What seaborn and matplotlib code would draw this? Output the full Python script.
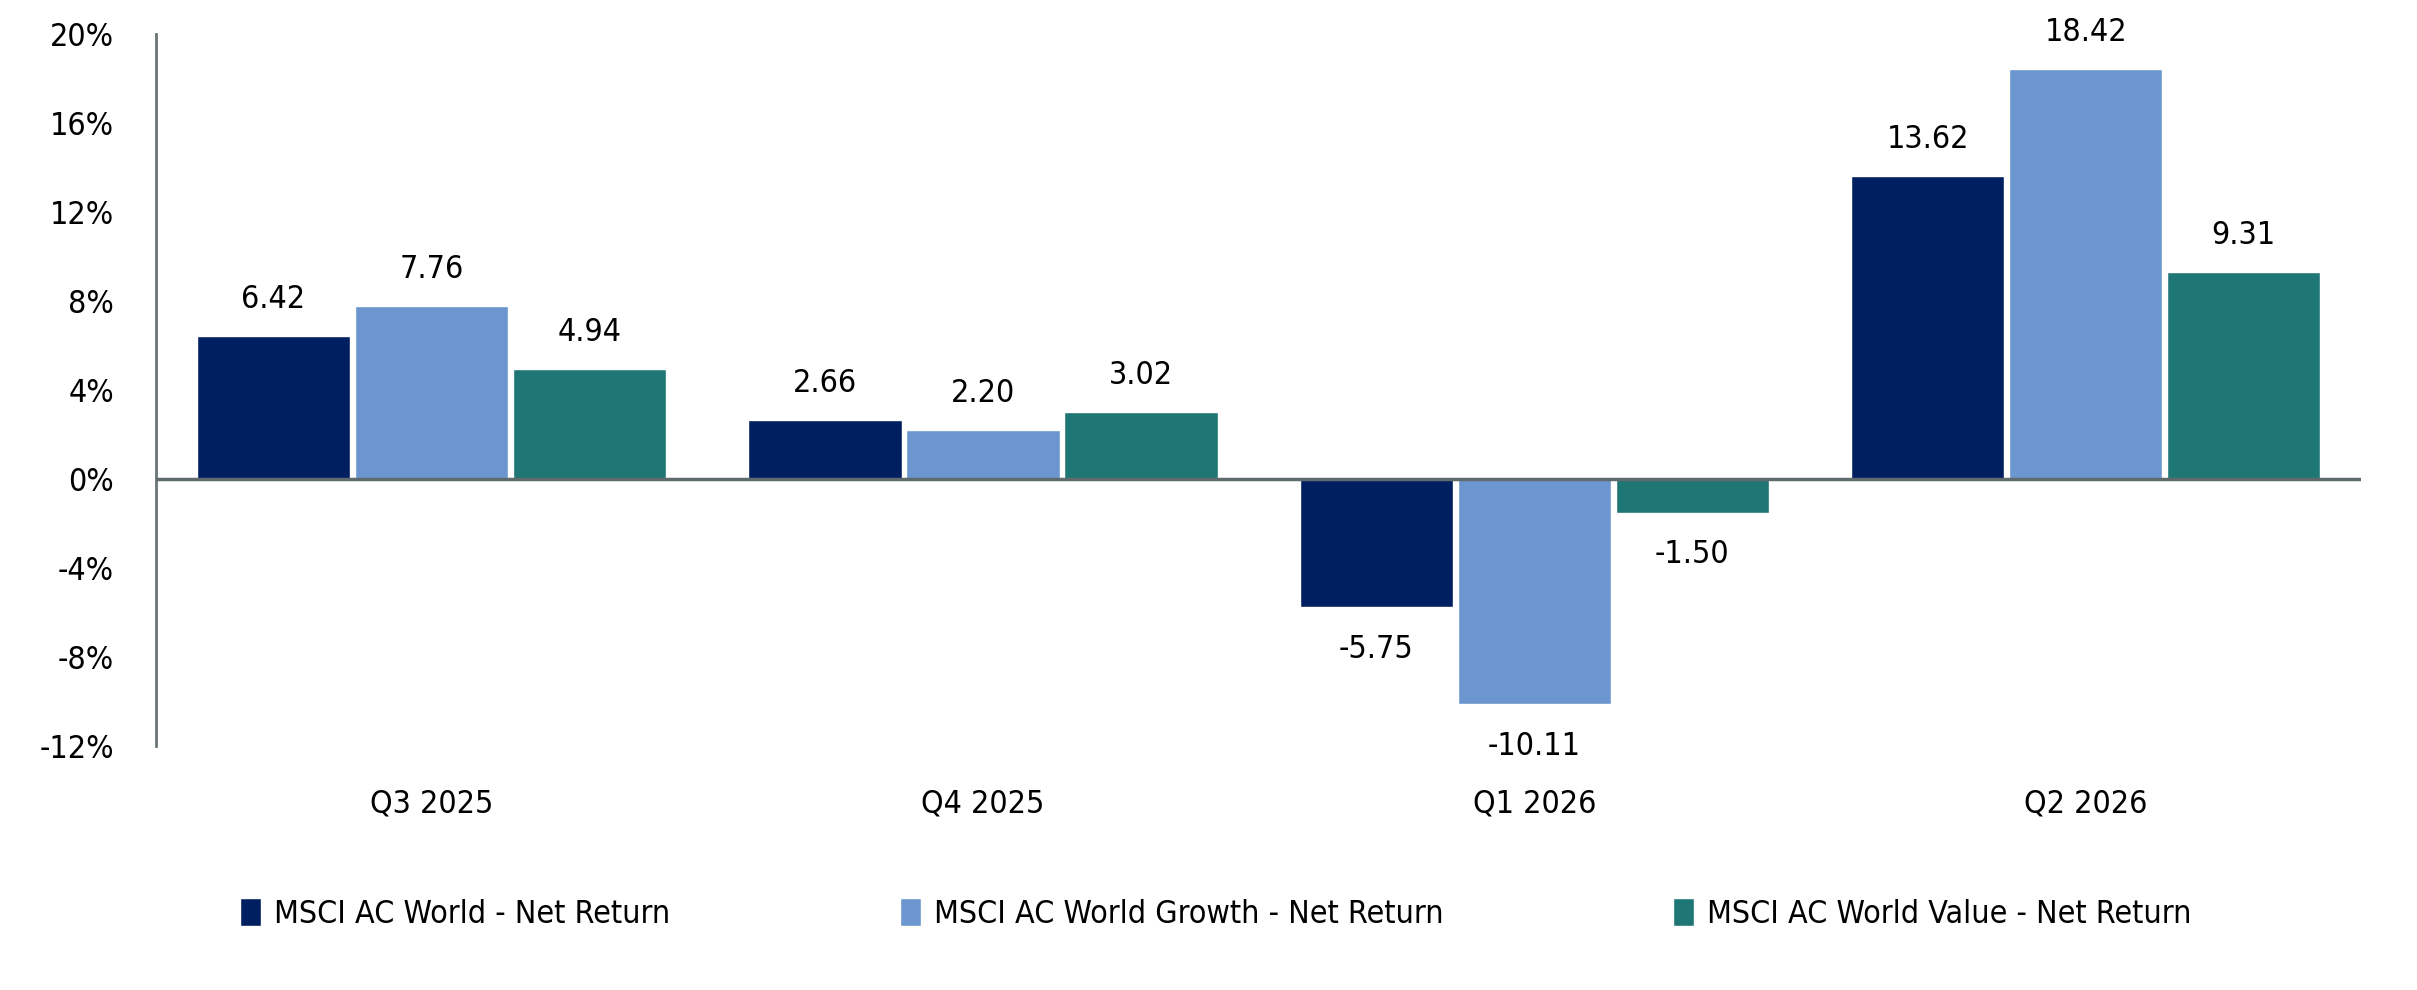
import matplotlib
matplotlib.use("Agg")
import matplotlib.pyplot as plt
from matplotlib.ticker import FuncFormatter
import pandas as pd
import seaborn as sns

# Chart data
quarters = ["Q3 2025", "Q4 2025", "Q1 2026", "Q2 2026"]
series_names = [
    "MSCI AC World - Net Return",
    "MSCI AC World Growth - Net Return",
    "MSCI AC World Value - Net Return",
]
world = [6.42, 2.66, -5.75, 13.62]
growth = [7.76, 2.20, -10.11, 18.42]
value = [4.94, 3.02, -1.50, 9.31]
y_ticks = [-12, -8, -4, 0, 4, 8, 12, 16, 20]

colors = ["#001F60", "#6B96D0", "#1F7775"]


def main():
    sns.set_style("white")
    plt.rcParams["font.family"] = ["DejaVu Sans"]
    plt.rcParams["font.stretch"] = "condensed"
    plt.rcParams["text.color"] = "black"
    plt.rcParams["xtick.color"] = "black"
    plt.rcParams["ytick.color"] = "black"

    df = pd.DataFrame(
        {
            "quarter": quarters * 3,
            "series": [s for s in series_names for _ in quarters],
            "ret": world + growth + value,
        }
    )

    fig = plt.figure(figsize=(24.17, 9.9), dpi=100)
    ax = fig.add_axes([0.0645, 0.246, 0.9125, 0.72])

    sns.barplot(
        data=df, x="quarter", y="ret", hue="series", hue_order=series_names,
        order=quarters, palette=colors, width=0.86, gap=0.03,
        saturation=1, errorbar=None, ax=ax,
    )

    # value labels
    for cont in ax.containers:
        for bar in cont:
            h = bar.get_height()
            x = bar.get_x() + bar.get_width() / 2
            off = 15 if h >= 0 else -19
            ax.annotate(
                f"{h:.2f}", (x, h), xytext=(0, off), textcoords="offset points",
                ha="center", va="bottom" if h >= 0 else "top", fontsize=23,
            )

    ax.set_xlim(-0.5, 3.5)
    ax.set_ylim(-12, 20)
    ax.set_yticks(y_ticks)
    ax.yaxis.set_major_formatter(FuncFormatter(lambda v, p: f"{v:.0f}%"))
    ax.set(xlabel="", ylabel="")
    ax.tick_params(axis="x", length=0, pad=30, labelsize=23)
    ax.tick_params(axis="y", length=0, pad=30, labelsize=23)

    for s in ["top", "right", "bottom"]:
        ax.spines[s].set_visible(False)
    ax.spines["left"].set_color("#6A7474")
    ax.spines["left"].set_linewidth(2)
    ax.axhline(0, color="#5F6B6D", linewidth=2.5, zorder=3)

    ax.legend(
        loc="center", bbox_to_anchor=(0.503, 0.077), bbox_transform=fig.transFigure,
        ncol=3, frameon=False, fontsize=23, handlelength=0.65, handleheight=1.0,
        handletextpad=0.4, columnspacing=7.2,
    )

    fig.savefig("out.png", dpi=100)


if __name__ == "__main__":
    main()
